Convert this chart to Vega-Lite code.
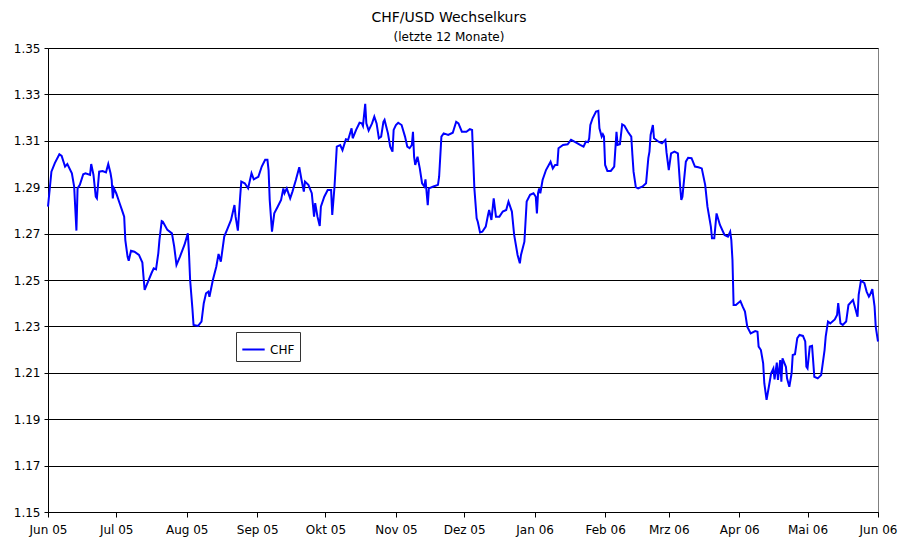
{
  "$schema": "https://vega.github.io/schema/vega-lite/v6.json",
  "autosize": {"type": "none"},
  "padding": {"left": 48, "top": 48, "right": 21, "bottom": 27},
  "width": 830,
  "height": 464,
  "background": "white",
  "title": {
    "text": "CHF/USD Wechselkurs",
    "subtitle": "(letzte 12 Monate)",
    "anchor": "middle",
    "frame": "group",
    "dx": -14,
    "offset": -1,
    "font": "DejaVu Sans",
    "fontSize": 14,
    "fontWeight": "normal",
    "color": "black",
    "subtitleFont": "DejaVu Sans",
    "subtitleFontSize": 12,
    "subtitleColor": "black",
    "subtitlePadding": 7
  },
  "config": {
    "view": {"stroke": "#808080", "strokeWidth": 1},
    "axis": {
      "labelFont": "DejaVu Sans",
      "labelFontSize": 12,
      "labelColor": "black",
      "domainColor": "black",
      "tickColor": "black",
      "gridColor": "black",
      "gridOpacity": 1,
      "gridWidth": 1
    }
  },
  "data": {
    "values": [
      {"d": "2005-06-01", "v": 1.2816},
      {"d": "2005-06-02T12:00Z", "v": 1.2967},
      {"d": "2005-06-04", "v": 1.3004},
      {"d": "2005-06-06", "v": 1.3042},
      {"d": "2005-06-07", "v": 1.3035},
      {"d": "2005-06-08T12:00Z", "v": 1.2989},
      {"d": "2005-06-09T12:00Z", "v": 1.3},
      {"d": "2005-06-11T12:00Z", "v": 1.296},
      {"d": "2005-06-12T12:00Z", "v": 1.2903},
      {"d": "2005-06-13T12:00Z", "v": 1.2713},
      {"d": "2005-06-14", "v": 1.2895},
      {"d": "2005-06-15", "v": 1.291},
      {"d": "2005-06-16T12:00Z", "v": 1.2956},
      {"d": "2005-06-17T12:00Z", "v": 1.296},
      {"d": "2005-06-19T12:00Z", "v": 1.2953},
      {"d": "2005-06-20", "v": 1.3},
      {"d": "2005-06-21", "v": 1.2953},
      {"d": "2005-06-22", "v": 1.2859},
      {"d": "2005-06-22T12:00Z", "v": 1.2852},
      {"d": "2005-06-23T12:00Z", "v": 1.2967},
      {"d": "2005-06-25", "v": 1.297},
      {"d": "2005-06-26T12:00Z", "v": 1.2964},
      {"d": "2005-06-27T12:00Z", "v": 1.3},
      {"d": "2005-06-28T12:00Z", "v": 1.296},
      {"d": "2005-06-29", "v": 1.2931},
      {"d": "2005-06-29T12:00Z", "v": 1.2852},
      {"d": "2005-06-30", "v": 1.2895},
      {"d": "2005-07-01", "v": 1.2874},
      {"d": "2005-07-02T12:00Z", "v": 1.2831},
      {"d": "2005-07-03T12:00Z", "v": 1.2802},
      {"d": "2005-07-04T12:00Z", "v": 1.2773},
      {"d": "2005-07-05", "v": 1.2672},
      {"d": "2005-07-06", "v": 1.26},
      {"d": "2005-07-06T12:00Z", "v": 1.2583},
      {"d": "2005-07-07T12:00Z", "v": 1.2626},
      {"d": "2005-07-09", "v": 1.2622},
      {"d": "2005-07-11", "v": 1.2608},
      {"d": "2005-07-12T12:00Z", "v": 1.2575},
      {"d": "2005-07-13", "v": 1.2514},
      {"d": "2005-07-13T12:00Z", "v": 1.2457},
      {"d": "2005-07-15", "v": 1.2493},
      {"d": "2005-07-16T12:00Z", "v": 1.2529},
      {"d": "2005-07-17T12:00Z", "v": 1.255},
      {"d": "2005-07-18T12:00Z", "v": 1.2546},
      {"d": "2005-07-19T12:00Z", "v": 1.2615},
      {"d": "2005-07-20", "v": 1.2672},
      {"d": "2005-07-21", "v": 1.2754},
      {"d": "2005-07-21T12:00Z", "v": 1.2751},
      {"d": "2005-07-23T12:00Z", "v": 1.2716},
      {"d": "2005-07-25T12:00Z", "v": 1.2701},
      {"d": "2005-07-26T12:00Z", "v": 1.2644},
      {"d": "2005-07-27T12:00Z", "v": 1.2565},
      {"d": "2005-07-29", "v": 1.26},
      {"d": "2005-07-31", "v": 1.2651},
      {"d": "2005-08-01T12:00Z", "v": 1.2701},
      {"d": "2005-08-02", "v": 1.2615},
      {"d": "2005-08-02T12:00Z", "v": 1.25},
      {"d": "2005-08-03T12:00Z", "v": 1.2378},
      {"d": "2005-08-04", "v": 1.2306},
      {"d": "2005-08-06", "v": 1.2302},
      {"d": "2005-08-07T12:00Z", "v": 1.2321},
      {"d": "2005-08-08T12:00Z", "v": 1.24},
      {"d": "2005-08-09T12:00Z", "v": 1.2443},
      {"d": "2005-08-10T12:00Z", "v": 1.245},
      {"d": "2005-08-11", "v": 1.2428},
      {"d": "2005-08-12T12:00Z", "v": 1.25},
      {"d": "2005-08-14", "v": 1.2557},
      {"d": "2005-08-15", "v": 1.2612},
      {"d": "2005-08-16", "v": 1.2579},
      {"d": "2005-08-17T12:00Z", "v": 1.2687},
      {"d": "2005-08-19", "v": 1.2723},
      {"d": "2005-08-20T12:00Z", "v": 1.2759},
      {"d": "2005-08-22", "v": 1.2823},
      {"d": "2005-08-22T12:00Z", "v": 1.2773},
      {"d": "2005-08-23T12:00Z", "v": 1.2713},
      {"d": "2005-08-24T12:00Z", "v": 1.2859},
      {"d": "2005-08-25", "v": 1.2924},
      {"d": "2005-08-26T12:00Z", "v": 1.2917},
      {"d": "2005-08-28", "v": 1.2895},
      {"d": "2005-08-29T12:00Z", "v": 1.296},
      {"d": "2005-08-30T12:00Z", "v": 1.2934},
      {"d": "2005-09-01T12:00Z", "v": 1.2945},
      {"d": "2005-09-03", "v": 1.2989},
      {"d": "2005-09-04T12:00Z", "v": 1.3018},
      {"d": "2005-09-05T12:00Z", "v": 1.3018},
      {"d": "2005-09-06", "v": 1.2974},
      {"d": "2005-09-06T12:00Z", "v": 1.2845},
      {"d": "2005-09-07T12:00Z", "v": 1.2708},
      {"d": "2005-09-08T12:00Z", "v": 1.2787},
      {"d": "2005-09-10", "v": 1.2816},
      {"d": "2005-09-11T12:00Z", "v": 1.2845},
      {"d": "2005-09-12T12:00Z", "v": 1.2895},
      {"d": "2005-09-13", "v": 1.2874},
      {"d": "2005-09-14", "v": 1.2895},
      {"d": "2005-09-15T12:00Z", "v": 1.2852},
      {"d": "2005-09-16T12:00Z", "v": 1.2881},
      {"d": "2005-09-18", "v": 1.2931},
      {"d": "2005-09-19T12:00Z", "v": 1.2986},
      {"d": "2005-09-20T12:00Z", "v": 1.2931},
      {"d": "2005-09-21T12:00Z", "v": 1.2881},
      {"d": "2005-09-22", "v": 1.2924},
      {"d": "2005-09-23T12:00Z", "v": 1.291},
      {"d": "2005-09-25", "v": 1.2874},
      {"d": "2005-09-26", "v": 1.2773},
      {"d": "2005-09-26T12:00Z", "v": 1.2831},
      {"d": "2005-09-27T12:00Z", "v": 1.2773},
      {"d": "2005-09-28T12:00Z", "v": 1.2733},
      {"d": "2005-09-29", "v": 1.2816},
      {"d": "2005-09-30T12:00Z", "v": 1.2859},
      {"d": "2005-10-02", "v": 1.2888},
      {"d": "2005-10-03T12:00Z", "v": 1.2888},
      {"d": "2005-10-04", "v": 1.278},
      {"d": "2005-10-05", "v": 1.2903},
      {"d": "2005-10-06", "v": 1.3075},
      {"d": "2005-10-07T12:00Z", "v": 1.3082},
      {"d": "2005-10-08T12:00Z", "v": 1.306},
      {"d": "2005-10-10", "v": 1.3107},
      {"d": "2005-10-11", "v": 1.3104},
      {"d": "2005-10-12T12:00Z", "v": 1.3154},
      {"d": "2005-10-13", "v": 1.3111},
      {"d": "2005-10-14T12:00Z", "v": 1.3147},
      {"d": "2005-10-16", "v": 1.3178},
      {"d": "2005-10-17", "v": 1.3175},
      {"d": "2005-10-17T12:00Z", "v": 1.3164},
      {"d": "2005-10-18T12:00Z", "v": 1.3259},
      {"d": "2005-10-19", "v": 1.3175},
      {"d": "2005-10-20", "v": 1.3144},
      {"d": "2005-10-21T12:00Z", "v": 1.3175},
      {"d": "2005-10-22T12:00Z", "v": 1.3204},
      {"d": "2005-10-23T12:00Z", "v": 1.3175},
      {"d": "2005-10-24T12:00Z", "v": 1.3111},
      {"d": "2005-10-25T12:00Z", "v": 1.3118},
      {"d": "2005-10-26T12:00Z", "v": 1.3182},
      {"d": "2005-10-27", "v": 1.319},
      {"d": "2005-10-28T12:00Z", "v": 1.3132},
      {"d": "2005-10-29T12:00Z", "v": 1.3075},
      {"d": "2005-10-30T12:00Z", "v": 1.3053},
      {"d": "2005-10-31", "v": 1.3147},
      {"d": "2005-11-01", "v": 1.3168},
      {"d": "2005-11-02", "v": 1.3178},
      {"d": "2005-11-03T12:00Z", "v": 1.3168},
      {"d": "2005-11-05", "v": 1.3118},
      {"d": "2005-11-06", "v": 1.3075},
      {"d": "2005-11-07", "v": 1.3068},
      {"d": "2005-11-08", "v": 1.3082},
      {"d": "2005-11-08T12:00Z", "v": 1.3139},
      {"d": "2005-11-09", "v": 1.3031},
      {"d": "2005-11-09T12:00Z", "v": 1.2996},
      {"d": "2005-11-10T12:00Z", "v": 1.3031},
      {"d": "2005-11-11T12:00Z", "v": 1.2981},
      {"d": "2005-11-12T12:00Z", "v": 1.2917},
      {"d": "2005-11-13T12:00Z", "v": 1.2903},
      {"d": "2005-11-14", "v": 1.2934},
      {"d": "2005-11-15", "v": 1.2823},
      {"d": "2005-11-15T12:00Z", "v": 1.2895},
      {"d": "2005-11-17T12:00Z", "v": 1.2903},
      {"d": "2005-11-19T12:00Z", "v": 1.291},
      {"d": "2005-11-20", "v": 1.2945},
      {"d": "2005-11-21", "v": 1.3118},
      {"d": "2005-11-22", "v": 1.3132},
      {"d": "2005-11-24", "v": 1.3125},
      {"d": "2005-11-26", "v": 1.3135},
      {"d": "2005-11-27T12:00Z", "v": 1.3182},
      {"d": "2005-11-28T12:00Z", "v": 1.3175},
      {"d": "2005-11-30", "v": 1.3139},
      {"d": "2005-12-02", "v": 1.3139},
      {"d": "2005-12-03T12:00Z", "v": 1.315},
      {"d": "2005-12-04T12:00Z", "v": 1.3147},
      {"d": "2005-12-05T12:00Z", "v": 1.2895},
      {"d": "2005-12-06T12:00Z", "v": 1.2766},
      {"d": "2005-12-07", "v": 1.2751},
      {"d": "2005-12-08", "v": 1.2705},
      {"d": "2005-12-09", "v": 1.2708},
      {"d": "2005-12-10T12:00Z", "v": 1.273},
      {"d": "2005-12-11T12:00Z", "v": 1.278},
      {"d": "2005-12-12", "v": 1.2802},
      {"d": "2005-12-13", "v": 1.2759},
      {"d": "2005-12-14", "v": 1.2852},
      {"d": "2005-12-15", "v": 1.2773},
      {"d": "2005-12-16T12:00Z", "v": 1.2773},
      {"d": "2005-12-18", "v": 1.2795},
      {"d": "2005-12-19T12:00Z", "v": 1.2802},
      {"d": "2005-12-20T12:00Z", "v": 1.2838},
      {"d": "2005-12-22", "v": 1.2795},
      {"d": "2005-12-23", "v": 1.2694},
      {"d": "2005-12-24T12:00Z", "v": 1.2608},
      {"d": "2005-12-25T12:00Z", "v": 1.2572},
      {"d": "2005-12-26", "v": 1.2608},
      {"d": "2005-12-27T12:00Z", "v": 1.2665},
      {"d": "2005-12-28T12:00Z", "v": 1.2838},
      {"d": "2005-12-30", "v": 1.2867},
      {"d": "2005-12-31T12:00Z", "v": 1.2874},
      {"d": "2006-01-01T12:00Z", "v": 1.2859},
      {"d": "2006-01-02", "v": 1.2787},
      {"d": "2006-01-02T12:00Z", "v": 1.2874},
      {"d": "2006-01-03", "v": 1.2895},
      {"d": "2006-01-03T12:00Z", "v": 1.2874},
      {"d": "2006-01-04T12:00Z", "v": 1.2931},
      {"d": "2006-01-06", "v": 1.2974},
      {"d": "2006-01-08", "v": 1.301},
      {"d": "2006-01-09", "v": 1.2981},
      {"d": "2006-01-10", "v": 1.2996},
      {"d": "2006-01-11", "v": 1.2996},
      {"d": "2006-01-11T12:00Z", "v": 1.3068},
      {"d": "2006-01-13T12:00Z", "v": 1.3082},
      {"d": "2006-01-15T12:00Z", "v": 1.3085},
      {"d": "2006-01-17", "v": 1.3104},
      {"d": "2006-01-18T12:00Z", "v": 1.3096},
      {"d": "2006-01-21", "v": 1.3082},
      {"d": "2006-01-22T12:00Z", "v": 1.3075},
      {"d": "2006-01-23T12:00Z", "v": 1.3096},
      {"d": "2006-01-24T12:00Z", "v": 1.3094},
      {"d": "2006-01-25", "v": 1.3111},
      {"d": "2006-01-25T12:00Z", "v": 1.3168},
      {"d": "2006-01-26T12:00Z", "v": 1.3197},
      {"d": "2006-01-28", "v": 1.3226},
      {"d": "2006-01-29", "v": 1.3229},
      {"d": "2006-01-29T12:00Z", "v": 1.3154},
      {"d": "2006-01-30T12:00Z", "v": 1.3118},
      {"d": "2006-01-31", "v": 1.3128},
      {"d": "2006-01-31T12:00Z", "v": 1.3118},
      {"d": "2006-02-01", "v": 1.2996},
      {"d": "2006-02-02", "v": 1.297},
      {"d": "2006-02-03T12:00Z", "v": 1.297},
      {"d": "2006-02-05", "v": 1.2989},
      {"d": "2006-02-06", "v": 1.3139},
      {"d": "2006-02-06T12:00Z", "v": 1.3082},
      {"d": "2006-02-07T12:00Z", "v": 1.3085},
      {"d": "2006-02-08T12:00Z", "v": 1.3171},
      {"d": "2006-02-09T12:00Z", "v": 1.3165},
      {"d": "2006-02-11", "v": 1.3139},
      {"d": "2006-02-12T12:00Z", "v": 1.3118},
      {"d": "2006-02-13", "v": 1.3039},
      {"d": "2006-02-13T12:00Z", "v": 1.2967},
      {"d": "2006-02-14T12:00Z", "v": 1.29},
      {"d": "2006-02-15T12:00Z", "v": 1.2895},
      {"d": "2006-02-17T12:00Z", "v": 1.2903},
      {"d": "2006-02-19", "v": 1.2917},
      {"d": "2006-02-20", "v": 1.3025},
      {"d": "2006-02-20T12:00Z", "v": 1.3053},
      {"d": "2006-02-21", "v": 1.3125},
      {"d": "2006-02-22", "v": 1.3168},
      {"d": "2006-02-22T12:00Z", "v": 1.3111},
      {"d": "2006-02-24T12:00Z", "v": 1.3096},
      {"d": "2006-02-26", "v": 1.3089},
      {"d": "2006-02-27T12:00Z", "v": 1.3104},
      {"d": "2006-02-28", "v": 1.305},
      {"d": "2006-03-01", "v": 1.2974},
      {"d": "2006-03-02", "v": 1.3046},
      {"d": "2006-03-03T12:00Z", "v": 1.3053},
      {"d": "2006-03-05", "v": 1.3046},
      {"d": "2006-03-06", "v": 1.2903},
      {"d": "2006-03-06T12:00Z", "v": 1.2845},
      {"d": "2006-03-07", "v": 1.2859},
      {"d": "2006-03-08T12:00Z", "v": 1.301},
      {"d": "2006-03-09T12:00Z", "v": 1.3027},
      {"d": "2006-03-11", "v": 1.3025},
      {"d": "2006-03-12T12:00Z", "v": 1.2989},
      {"d": "2006-03-14", "v": 1.2986},
      {"d": "2006-03-15T12:00Z", "v": 1.2981},
      {"d": "2006-03-17", "v": 1.291},
      {"d": "2006-03-18", "v": 1.2816},
      {"d": "2006-03-19T12:00Z", "v": 1.273},
      {"d": "2006-03-20", "v": 1.268},
      {"d": "2006-03-21", "v": 1.268},
      {"d": "2006-03-22", "v": 1.2787},
      {"d": "2006-03-23T12:00Z", "v": 1.2737},
      {"d": "2006-03-25T12:00Z", "v": 1.2694},
      {"d": "2006-03-27", "v": 1.2687},
      {"d": "2006-03-28", "v": 1.2708},
      {"d": "2006-03-28T12:00Z", "v": 1.2672},
      {"d": "2006-03-29", "v": 1.2586},
      {"d": "2006-03-29T12:00Z", "v": 1.2392},
      {"d": "2006-03-30T12:00Z", "v": 1.2392},
      {"d": "2006-04-01T12:00Z", "v": 1.2409},
      {"d": "2006-04-02T12:00Z", "v": 1.2385},
      {"d": "2006-04-03T12:00Z", "v": 1.2364},
      {"d": "2006-04-04T12:00Z", "v": 1.2299},
      {"d": "2006-04-06", "v": 1.227},
      {"d": "2006-04-08", "v": 1.228},
      {"d": "2006-04-09", "v": 1.2277},
      {"d": "2006-04-09T12:00Z", "v": 1.2213},
      {"d": "2006-04-10T12:00Z", "v": 1.2198},
      {"d": "2006-04-11T12:00Z", "v": 1.2141},
      {"d": "2006-04-12", "v": 1.2055},
      {"d": "2006-04-13", "v": 1.1983},
      {"d": "2006-04-14", "v": 1.204},
      {"d": "2006-04-15", "v": 1.2098},
      {"d": "2006-04-16", "v": 1.2119},
      {"d": "2006-04-16T12:00Z", "v": 1.2072},
      {"d": "2006-04-17T12:00Z", "v": 1.2144},
      {"d": "2006-04-18", "v": 1.2069},
      {"d": "2006-04-19", "v": 1.2155},
      {"d": "2006-04-19T12:00Z", "v": 1.2062},
      {"d": "2006-04-20", "v": 1.2162},
      {"d": "2006-04-21T12:00Z", "v": 1.2126},
      {"d": "2006-04-22", "v": 1.2076},
      {"d": "2006-04-23", "v": 1.204},
      {"d": "2006-04-24", "v": 1.2098},
      {"d": "2006-04-24T12:00Z", "v": 1.2177},
      {"d": "2006-04-25T12:00Z", "v": 1.218},
      {"d": "2006-04-26T12:00Z", "v": 1.2249},
      {"d": "2006-04-27T12:00Z", "v": 1.2263},
      {"d": "2006-04-29", "v": 1.2259},
      {"d": "2006-04-30", "v": 1.2235},
      {"d": "2006-04-30T12:00Z", "v": 1.2126},
      {"d": "2006-05-01", "v": 1.2119},
      {"d": "2006-05-02", "v": 1.2213},
      {"d": "2006-05-03", "v": 1.2216},
      {"d": "2006-05-04", "v": 1.2083},
      {"d": "2006-05-05T12:00Z", "v": 1.2076},
      {"d": "2006-05-07", "v": 1.209},
      {"d": "2006-05-08T12:00Z", "v": 1.2198},
      {"d": "2006-05-09", "v": 1.2256},
      {"d": "2006-05-10", "v": 1.2321},
      {"d": "2006-05-11", "v": 1.2313},
      {"d": "2006-05-13", "v": 1.233},
      {"d": "2006-05-14", "v": 1.2349},
      {"d": "2006-05-14T12:00Z", "v": 1.24},
      {"d": "2006-05-15T12:00Z", "v": 1.2313},
      {"d": "2006-05-16T12:00Z", "v": 1.2306},
      {"d": "2006-05-18", "v": 1.2321},
      {"d": "2006-05-19", "v": 1.2392},
      {"d": "2006-05-21", "v": 1.2414},
      {"d": "2006-05-22", "v": 1.2378},
      {"d": "2006-05-23", "v": 1.2342},
      {"d": "2006-05-23T12:00Z", "v": 1.2436},
      {"d": "2006-05-24T12:00Z", "v": 1.2497},
      {"d": "2006-05-26", "v": 1.2487},
      {"d": "2006-05-27", "v": 1.245},
      {"d": "2006-05-28", "v": 1.2428},
      {"d": "2006-05-28T12:00Z", "v": 1.2436},
      {"d": "2006-05-29T12:00Z", "v": 1.2461},
      {"d": "2006-05-30T12:00Z", "v": 1.2385},
      {"d": "2006-05-31", "v": 1.2299},
      {"d": "2006-06-01", "v": 1.2235}
    ]
  },
  "mark": {"type": "line", "strokeWidth": 2, "interpolate": "linear"},
  "encoding": {
    "x": {
      "field": "d",
      "type": "temporal",
      "scale": {
        "type": "utc",
        "nice": false,
        "domain": [
          {"year": 2005, "month": 6, "date": 1, "utc": true},
          {"year": 2006, "month": 6, "date": 1, "utc": true}
        ]
      },
      "axis": {
        "title": null,
        "grid": false,
        "tickSize": 5,
        "labelPadding": 7,
        "labelOverlap": false,
        "labelFlush": false,
        "values": [
          {"year": 2005, "month": 6, "date": 1, "utc": true},
          {"year": 2005, "month": 7, "date": 1, "utc": true},
          {"year": 2005, "month": 8, "date": 1, "utc": true},
          {"year": 2005, "month": 9, "date": 1, "utc": true},
          {"year": 2005, "month": 10, "date": 1, "utc": true},
          {"year": 2005, "month": 11, "date": 1, "utc": true},
          {"year": 2005, "month": 12, "date": 1, "utc": true},
          {"year": 2006, "month": 1, "date": 1, "utc": true},
          {"year": 2006, "month": 2, "date": 1, "utc": true},
          {"year": 2006, "month": 3, "date": 1, "utc": true},
          {"year": 2006, "month": 4, "date": 1, "utc": true},
          {"year": 2006, "month": 5, "date": 1, "utc": true},
          {"year": 2006, "month": 6, "date": 1, "utc": true}
        ],
        "labelExpr": "['Jan','Feb','Mrz','Apr','Mai','Jun','Jul','Aug','Sep','Okt','Nov','Dez'][utcmonth(datum.value)] + ' ' + utcFormat(datum.value, '%y')"
      }
    },
    "y": {
      "field": "v",
      "type": "quantitative",
      "scale": {"domain": [1.15, 1.35], "nice": false, "zero": false},
      "axis": {
        "title": null,
        "grid": true,
        "tickSize": 4,
        "labelPadding": 4,
        "format": ".2f",
        "values": [1.15, 1.17, 1.19, 1.21, 1.23, 1.25, 1.27, 1.29, 1.31, 1.33, 1.35]
      }
    },
    "color": {
      "datum": "CHF",
      "scale": {"range": ["#0000ff"]},
      "legend": {
        "title": null,
        "orient": "none",
        "legendX": 188,
        "legendY": 284,
        "strokeColor": "#333333",
        "fillColor": "white",
        "padding": 5,
        "symbolType": "stroke",
        "symbolSize": 500,
        "symbolStrokeWidth": 2,
        "labelFont": "DejaVu Sans",
        "labelFontSize": 12,
        "labelColor": "black",
        "labelOffset": 4
      }
    }
  }
}
